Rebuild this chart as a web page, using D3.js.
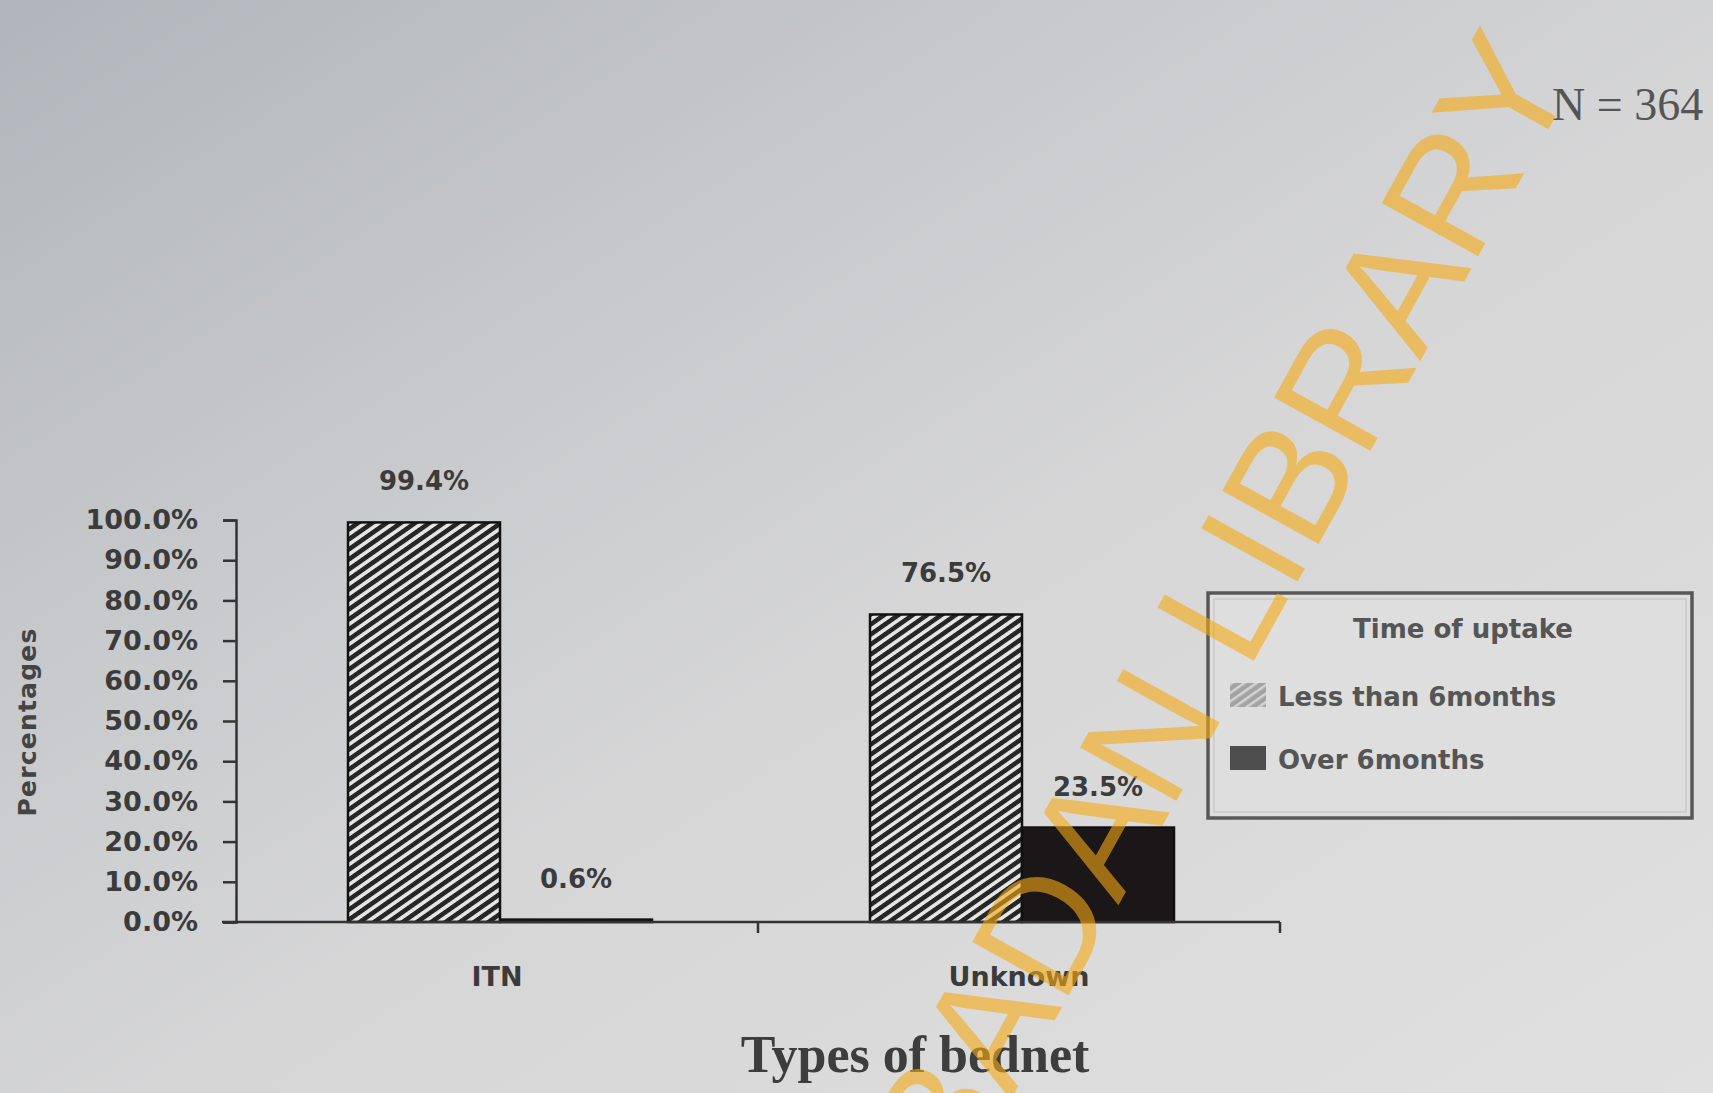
<!DOCTYPE html>
<html>
<head>
<meta charset="utf-8">
<script src="https://cdn.jsdelivr.net/npm/d3@7"></script>
<style>
  html, body { margin: 0; padding: 0; background: #d6d6d6; overflow: hidden; }
  svg { display: block; }
</style>
</head>
<body>
<svg id="chart" width="1713" height="1093"></svg>
<script>
// Bednet type by time of uptake (percent of respondents)
const categories = ["ITN", "Unknown"];
const series = ["Less than 6months", "Over 6months"];
const lessThan6Months = [99.4, 76.5];
const over6Months = [0.6, 23.5];
const yTickValues = [0, 10, 20, 30, 40, 50, 60, 70, 80, 90, 100];
const legendTitle = "Time of uptake";
const yTitle = "Percentages";
const xTitle = "Types of bednet";
const sampleNote = "N = 364";
const stampText = "UNIVERSITY OF IBADAN LIBRARY";

const W = 1713, H = 1093;
const svg = d3.select("#chart");
const defs = svg.append("defs");

// paper background
const bg = defs.append("linearGradient").attr("id", "paper")
  .attr("x1", 0).attr("y1", 0).attr("x2", 1).attr("y2", 1);
[[0, "#b1b5bb"], [0.3, "#c6c8cb"], [0.55, "#d6d6d7"], [1, "#e0e0e0"]]
  .forEach(([o, c]) => bg.append("stop").attr("offset", o).attr("stop-color", c));
svg.append("rect").attr("width", W).attr("height", H).attr("fill", "url(#paper)");

// diagonal hatch for the "less than 6 months" series
function hatch(id, back, line, period, thick) {
  const p = defs.append("pattern").attr("id", id)
    .attr("patternUnits", "userSpaceOnUse")
    .attr("width", period).attr("height", 20)
    .attr("patternTransform", "rotate(55)");
  p.append("rect").attr("width", period).attr("height", 20).attr("fill", back);
  p.append("rect").attr("width", thick).attr("height", 20).attr("fill", line);
}
hatch("hatchBar", "#e6e6e6", "#262626", 8.2, 4.6);
hatch("hatchKey", "#a3a3a3", "#d4d4d4", 7, 2.5);

const fills = ["url(#hatchBar)", "#1b1618"];
const keyFills = ["url(#hatchKey)", "#4e4e4e"];
const values = [lessThan6Months, over6Months];

// scales
const x0 = d3.scaleBand().domain(categories).range([236, 1280]);
const groupWidth = 304;
const x1 = d3.scaleBand().domain(series).range([0, groupWidth]);
const y = d3.scaleLinear().domain([0, 100]).range([922, 520]);

const labelFont = "'DejaVu Sans', sans-serif";
const ink = "#3b3b3b";

// bars
const rows = [];
categories.forEach((c, i) => series.forEach((s, j) => rows.push({ c, s, j, v: values[j][i] })));
const gx = c => x0(c) + (x0.bandwidth() - groupWidth) / 2 + 3;

svg.append("g").selectAll("rect").data(rows).join("rect")
  .attr("x", d => gx(d.c) + x1(d.s))
  .attr("y", d => y(d.v))
  .attr("width", x1.bandwidth())
  .attr("height", d => y(0) - y(d.v))
  .attr("fill", d => fills[d.j])
  .attr("stroke", "#111")
  .attr("stroke-width", 2.5);

// value labels
svg.append("g").selectAll("text").data(rows).join("text")
  .attr("x", d => gx(d.c) + x1(d.s) + x1.bandwidth() / 2)
  .attr("y", d => y(d.v) - 32)
  .attr("text-anchor", "middle")
  .attr("font-family", labelFont).attr("font-weight", "bold").attr("font-size", 26)
  .attr("fill", ink)
  .text(d => d3.format(".1f")(d.v) + "%");

// y axis
const yAxis = svg.append("g").attr("transform", `translate(${x0.range()[0]},0)`)
  .call(d3.axisLeft(y).tickValues(yTickValues).tickSize(13).tickPadding(25)
    .tickFormat(v => d3.format(".1f")(v) + "%"));
yAxis.select(".domain").attr("stroke", "#333").attr("stroke-width", 2.5);
yAxis.selectAll(".tick line").attr("stroke", "#333").attr("stroke-width", 2.5);
yAxis.selectAll(".tick text").attr("font-family", labelFont).attr("font-weight", "bold")
  .attr("font-size", 27).attr("fill", ink);

// x axis: ticks at category boundaries
const xAxis = svg.append("g").attr("transform", `translate(0,${y(0)})`)
  .call(d3.axisBottom(x0).tickSize(0).tickPadding(45).tickSizeOuter(0));
xAxis.select(".domain").attr("stroke", "#333").attr("stroke-width", 2.5)
  .attr("d", `M${x0.range()[0] - 14},0H${x0.range()[1]}`);
xAxis.selectAll(".tick text").attr("font-family", labelFont).attr("font-weight", "bold")
  .attr("font-size", 27).attr("fill", ink);
const bounds = categories.map(c => x0(c)).concat([x0.range()[1]]).slice(1);
xAxis.selectAll("line.sep").data(bounds).join("line").attr("class", "sep")
  .attr("x1", d => d).attr("x2", d => d).attr("y1", 0).attr("y2", 11)
  .attr("stroke", "#333").attr("stroke-width", 2.5);

// axis titles
svg.append("text")
  .attr("transform", "translate(36,722) rotate(-90)")
  .attr("text-anchor", "middle")
  .attr("font-family", labelFont).attr("font-weight", "bold").attr("font-size", 25)
  .attr("letter-spacing", 1.2)
  .attr("fill", "#444").text(yTitle);

svg.append("text")
  .attr("x", 915).attr("y", 1072).attr("text-anchor", "middle")
  .attr("font-family", "'Liberation Serif', serif").attr("font-weight", "bold")
  .attr("font-size", 52).attr("fill", "#3d3d3d").text(xTitle);

svg.append("text")
  .attr("x", 1552).attr("y", 120)
  .attr("font-family", "'Liberation Serif', serif")
  .attr("font-size", 46).attr("fill", "#555").text(sampleNote);

// legend
const lg = svg.append("g").attr("transform", "translate(1208,593)");
lg.append("rect").attr("width", 484).attr("height", 225)
  .attr("fill", "#dedede").attr("stroke", "#585858").attr("stroke-width", 3.5);
lg.append("rect").attr("x", 6).attr("y", 6).attr("width", 472).attr("height", 213)
  .attr("fill", "none").attr("stroke", "#c9c9c9").attr("stroke-width", 1.5);
lg.append("text").attr("x", 255).attr("y", 45).attr("text-anchor", "middle")
  .attr("font-family", labelFont).attr("font-weight", "bold").attr("font-size", 26)
  .attr("fill", "#555").text(legendTitle);
const items = lg.selectAll("g.item").data(series).join("g").attr("class", "item")
  .attr("transform", (d, i) => `translate(22,${90 + i * 63})`);
items.append("rect").attr("width", 36).attr("height", 24)
  .attr("fill", (d, i) => keyFills[i]);
items.append("text").attr("x", 48).attr("y", 23)
  .attr("font-family", labelFont).attr("font-weight", "bold").attr("font-size", 26)
  .attr("fill", "#555").text(d => d);

// library stamp across the page
svg.append("text")
  .attr("transform", "translate(1578,76) rotate(-61)")
  .attr("text-anchor", "end")
  .attr("font-family", "'Liberation Sans', sans-serif")
  .attr("font-size", 160)
  .attr("fill", "rgb(245,170,20)").attr("fill-opacity", 0.6)
  .text(stampText);
</script>
</body>
</html>
